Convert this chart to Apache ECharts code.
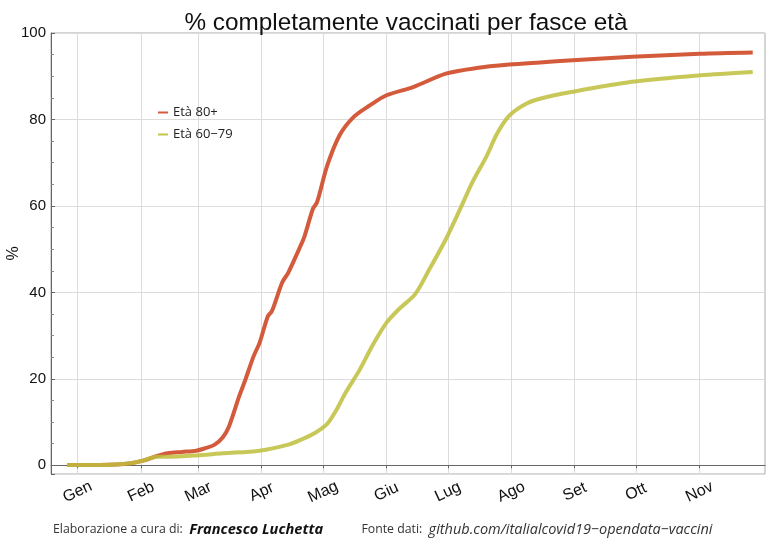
<!DOCTYPE html>
<html>
<head>
<meta charset="utf-8">
<script src="https://cdn.jsdelivr.net/npm/echarts@6/dist/echarts.min.js"></script>
<style>
  html, body { margin: 0; padding: 0; background: #fff; }
  #chart { width: 767px; height: 539px; }
</style>
</head>
<body>
<div id="chart"></div>
<script>
const monthNames = ['Gen', 'Feb', 'Mar', 'Apr', 'Mag', 'Giu', 'Lug', 'Ago', 'Set', 'Ott', 'Nov', 'Dic'];
const monthTicks = [
  '2021-01-01', '2021-02-01', '2021-03-01', '2021-04-01', '2021-05-01', '2021-06-01',
  '2021-07-01', '2021-08-01', '2021-09-01', '2021-10-01', '2021-11-01'
];

const dates80 = [
  '2020-12-27', '2021-01-12', '2021-01-20', '2021-01-27', '2021-02-02', '2021-02-09',
  '2021-02-14', '2021-02-21', '2021-02-28', '2021-03-04', '2021-03-09', '2021-03-13',
  '2021-03-16', '2021-03-21', '2021-03-24', '2021-03-28', '2021-03-31', '2021-04-04',
  '2021-04-06', '2021-04-11', '2021-04-14', '2021-04-20', '2021-04-22', '2021-04-26',
  '2021-04-28', '2021-05-03', '2021-05-09', '2021-05-16', '2021-05-24', '2021-06-01',
  '2021-06-14', '2021-06-30', '2021-07-15', '2021-07-31', '2021-08-15', '2021-08-31',
  '2021-09-29', '2021-11-01', '2021-11-27'
];
const values80 = [
  0.1, 0.1, 0.2, 0.5, 1.1, 2.2,
  2.8, 3.1, 3.4, 3.9, 4.8, 6.5,
  9.0, 16.0, 19.8, 25.2, 28.4, 34.5,
  35.7, 42.3, 44.6, 50.8, 53.1, 59.3,
  60.8, 69.3, 76.3, 80.6, 83.3, 85.6,
  87.5, 90.6, 91.9, 92.7, 93.2, 93.7,
  94.5, 95.2, 95.5
];

const dates6079 = [
  '2020-12-27', '2021-01-12', '2021-01-27', '2021-02-02', '2021-02-09', '2021-02-14',
  '2021-02-28', '2021-03-13', '2021-03-31', '2021-04-14', '2021-04-20', '2021-04-27',
  '2021-05-03', '2021-05-07', '2021-05-12', '2021-05-19', '2021-05-25', '2021-06-01',
  '2021-06-07', '2021-06-15', '2021-06-22', '2021-06-30', '2021-07-07', '2021-07-13',
  '2021-07-20', '2021-07-25', '2021-07-31', '2021-08-08', '2021-08-15', '2021-08-31',
  '2021-09-29', '2021-11-01', '2021-11-27'
];
const values6079 = [
  0.1, 0.1, 0.5, 1.1, 2.0, 2.0,
  2.3, 2.8, 3.4, 4.8, 5.9, 7.5,
  9.6, 12.4, 16.8, 22.2, 27.6, 33.0,
  36.1, 39.6, 45.4, 52.3, 59.3, 65.5,
  71.6, 76.7, 80.9, 83.6, 84.8, 86.4,
  88.7, 90.2, 91.0
];

function toDate(s) {
  const p = s.split('-').map(Number);
  return new Date(p[0], p[1] - 1, p[2]).getTime();
}
function pairs(ds, vs) {
  return ds.map((d, i) => [toDate(d), vs[i]]);
}

const chart = echarts.init(document.getElementById('chart'));
chart.setOption({
  animation: false,
  title: [
    {
      text: '% completamente vaccinati per fasce età',
      left: 401,
      textAlign: 'center',
      top: 6,
      textStyle: { fontFamily: 'Liberation Sans', fontSize: 24.3, fontWeight: 'normal', color: '#111' }
    },
    {
      text: '{n|Elaborazione a cura di:  }{b|Francesco Luchetta}{n|            Fonte dati:  }{i|github.com/italialcovid19\u2212opendata\u2212vaccini}',
      left: 53,
      top: 522,
      padding: 0,
      textStyle: {
        fontWeight: 'normal',
        rich: {
          n: { fontFamily: 'Open Sans', fontSize: 12.3, color: '#333', fontWeight: 'normal' },
          b: { fontFamily: 'Open Sans', fontSize: 14.6, color: '#111', fontStyle: 'italic', fontWeight: 'bold' },
          i: { fontFamily: 'Open Sans', fontSize: 14.5, color: '#333', fontStyle: 'italic', fontWeight: 'normal' }
        }
      }
    }
  ],
  legend: {
    orient: 'vertical',
    left: 153,
    top: 101,
    itemWidth: 10,
    itemHeight: 2,
    itemGap: 9,
    icon: 'rect',
    textStyle: { fontFamily: 'Open Sans', fontSize: 13, color: '#222' },
    data: ['Età 80+', 'Età 60\u221279']
  },
  grid: {
    left: 51, right: 2, top: 33, bottom: 65,
    outerBoundsMode: 'none',
    containLabel: false,
    show: true, borderColor: '#aaa', borderWidth: 1
  },
  xAxis: {
    type: 'value',
    min: toDate('2020-12-19'),
    max: toDate('2021-12-03'),
    axisLine: { lineStyle: { color: '#666' } },
    axisTick: { show: true, length: 3, lineStyle: { color: '#666' }, customValues: monthTicks.map(toDate) },
    axisLabel: {
      customValues: monthTicks.map(toDate),
      formatter: v => monthNames[new Date(v).getMonth()],
      rotate: 25,
      align: 'center',
      verticalAlign: 'middle',
      margin: 18,
      fontFamily: 'Liberation Sans',
      fontSize: 16,
      color: '#111'
    },
    splitLine: { show: true, lineStyle: { color: '#dcdcdc' } }
  },
  yAxis: {
    type: 'value',
    min: -2,
    max: 100,
    splitNumber: 5,
    name: '%',
    nameLocation: 'middle',
    nameGap: 29,
    nameRotate: 90,
    nameMoveOverlap: false,
    nameTextStyle: { fontFamily: 'Liberation Sans', fontSize: 16, color: '#111' },
    axisLine: { show: true, lineStyle: { color: '#666' } },
    axisTick: { show: true, inside: true, length: 4, lineStyle: { color: '#666' } },
    minorTick: { show: true, splitNumber: 4, length: 3, lineStyle: { color: '#888' } },
    axisLabel: {
      formatter: v => (v < 0 ? '' : String(v)),
      margin: 5,
      fontFamily: 'Liberation Sans',
      fontSize: 15,
      color: '#111'
    },
    splitLine: { show: true, lineStyle: { color: '#dcdcdc' } }
  },
  series: [
    {
      name: 'Età 80+',
      type: 'line',
      showSymbol: false,
      smooth: 0.3,
      color: '#d45a3c',
      lineStyle: { width: 4, color: '#d45a3c' },
      data: pairs(dates80, values80)
    },
    {
      name: 'Età 60\u221279',
      type: 'line',
      showSymbol: false,
      smooth: 0.3,
      color: '#c4c24a',
      lineStyle: { width: 4, color: 'rgba(190,190,60,0.85)' },
      data: pairs(dates6079, values6079)
    }
  ]
});
</script>
</body>
</html>
